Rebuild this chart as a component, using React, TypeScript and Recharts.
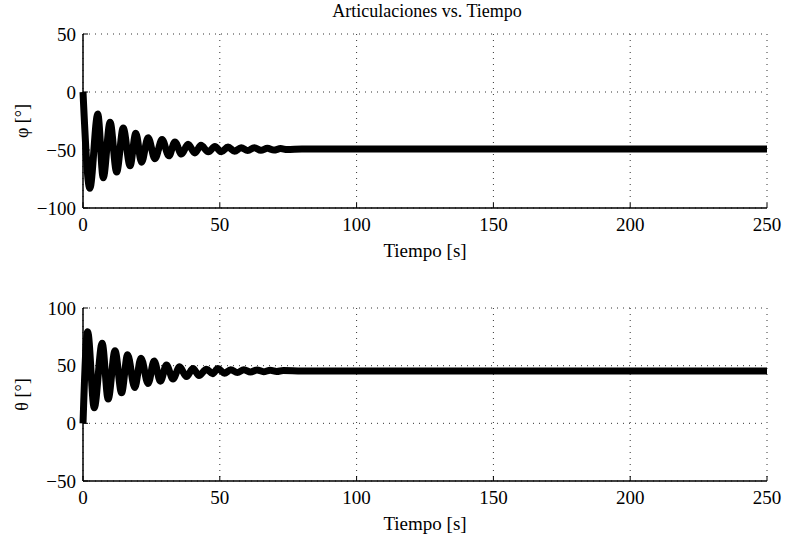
import { LineChart, Line, XAxis, YAxis, CartesianGrid, Label } from "recharts";

// tick values
const TIME_TICKS = [0, 50, 100, 150, 200, 250];
const PHI_TICKS = [-100, -50, 0, 50];
const THETA_TICKS = [-50, 0, 50, 100];

const phiTime = [
  0, 2.5, 5.4, 7.4, 9.9, 12.3, 14.7, 17.2, 19.3, 21.4,
  23.8, 26.3, 28.9, 31.4, 33.6, 36, 38.4, 40.9, 43.1, 45.8,
  48.2, 50.6, 53, 55.4, 57.8, 60.2, 62.6, 65, 67.4, 69.8,
  72.2, 74.6, 80, 250,
];
const phiValues = [
  0, -83, -19, -74, -26, -69, -31, -63.5, -35.5, -60.5,
  -39.5, -57.5, -41, -55, -43, -53.5, -45, -52.5, -46, -51.5,
  -47, -51.5, -47.5, -51, -48, -50.5, -48, -50.3, -48.5, -50,
  -48.8, -49.6, -49.2, -49.2,
];

// theta(t): extremes
const thetaTime = [
  0, 1.7, 4.1, 7.0, 9.2, 11.7, 14.1, 16.3, 18.9, 21.2,
  23.8, 26, 28.3, 30.5, 32.9, 35.3, 37.8, 40.2, 42.4, 45.1,
  47.4, 49.3, 51.7, 54, 56.4, 58.8, 61.2, 63.6, 66, 68.4,
  70.8, 73.2, 80, 250,
];
const thetaValues = [
  0, 79.5, 13.5, 69.5, 21, 63, 26.5, 59.5, 31, 56.5,
  34.5, 54, 36.5, 50.5, 38.5, 49, 40.5, 47.5, 41.5, 47,
  43, 47.5, 43.5, 46.5, 44, 46.5, 44.5, 46.3, 44.8, 46,
  45, 45.8, 45.4, 45.4,
];

const phiData = phiTime.map((t, i) => ({ t, v: phiValues[i] }));
const thetaData = thetaTime.map((t, i) => ({ t, v: thetaValues[i] }));

const SERIF = "'Liberation Serif', 'Times New Roman', serif";
const tickStyle = { fontFamily: SERIF, fontSize: 19, fill: "#000" };
const fmt = (v: number) => (v < 0 ? "\u2212" + Math.abs(v) : String(v));

type PanelProps = {
  data: { t: number; v: number }[];
  domain: [number, number];
  yTicks: number[];
  yLabel: string;
  top: number;
  height: number;
  marginTop: number;
  marginBottom: number;
};

function Panel({ data, domain, yTicks, yLabel, top, height, marginTop, marginBottom }: PanelProps) {
  const labelY = marginTop + (height - marginTop - marginBottom - 30) / 2;
  return (
    <div style={{ position: "absolute", left: 0, top }}>
      <LineChart
        width={785}
        height={height}
        data={data}
        margin={{ top: marginTop, right: 18, bottom: marginBottom, left: 23 }}
      >
        <CartesianGrid stroke="#333" strokeDasharray="1 5" />
        <XAxis
          type="number"
          dataKey="t"
          domain={[0, 250]}
          ticks={TIME_TICKS}
          interval={0}
          height={30}
          tickSize={-5}
          tickMargin={15}
          tick={tickStyle}
          axisLine={{ stroke: "#000", strokeWidth: 1.5 }}
          tickLine={{ stroke: "#000" }}
        >
          <Label value="Tiempo [s]" position="bottom" offset={6} fontFamily={SERIF} fontSize={19} fill="#000" />
        </XAxis>
        <XAxis
          xAxisId="top"
          orientation="top"
          type="number"
          dataKey="t"
          domain={[0, 250]}
          ticks={TIME_TICKS}
          interval={0}
          height={0}
          tickSize={-5}
          tickFormatter={() => ""}
          axisLine={{ stroke: "#000", strokeWidth: 1.5 }}
          tickLine={{ stroke: "#000" }}
        />
        <YAxis
          type="number"
          domain={domain}
          ticks={yTicks}
          interval={0}
          allowDataOverflow
          width={60}
          tickSize={-5}
          tickMargin={12}
          tick={tickStyle}
          tickFormatter={fmt}
          axisLine={{ stroke: "#000", strokeWidth: 1.5 }}
          tickLine={{ stroke: "#000" }}
        >
          <Label
            content={() => (
              <text
                x={22}
                y={labelY}
                transform={`rotate(-90 22 ${labelY})`}
                textAnchor="middle"
                dominantBaseline="central"
                fontFamily={SERIF}
                fontSize={18}
                fill="#000"
              >
                {yLabel}
              </text>
            )}
          />
        </YAxis>
        <YAxis
          yAxisId="right"
          orientation="right"
          type="number"
          domain={domain}
          ticks={yTicks}
          interval={0}
          allowDataOverflow
          width={0}
          tickSize={-5}
          tickFormatter={() => ""}
          axisLine={{ stroke: "#000", strokeWidth: 1.5 }}
          tickLine={{ stroke: "#000" }}
        />
        <Line
          type="monotone"
          dataKey="v"
          stroke="#000"
          strokeWidth={7}
          dot={false}
          isAnimationActive={false}
        />
      </LineChart>
    </div>
  );
}

export default function App() {
  return (
    <div style={{ position: "absolute", left: 0, top: 0, width: 785, height: 535, background: "#fff" }}>
      <div
        style={{
          position: "absolute",
          left: 83,
          width: 688,
          top: 1,
          textAlign: "center",
          fontFamily: SERIF,
          fontSize: 18,
          color: "#000",
        }}
      >
        Articulaciones vs. Tiempo
      </div>
      <Panel
        data={phiData}
        domain={[-100, 50]}
        yTicks={PHI_TICKS}
        yLabel="φ [°]"
        top={0}
        height={270}
        marginTop={34}
        marginBottom={32}
      />
      <Panel
        data={thetaData}
        domain={[-50, 100]}
        yTicks={THETA_TICKS}
        yLabel="θ [°]"
        top={270}
        height={265}
        marginTop={38}
        marginBottom={24}
      />
    </div>
  );
}
